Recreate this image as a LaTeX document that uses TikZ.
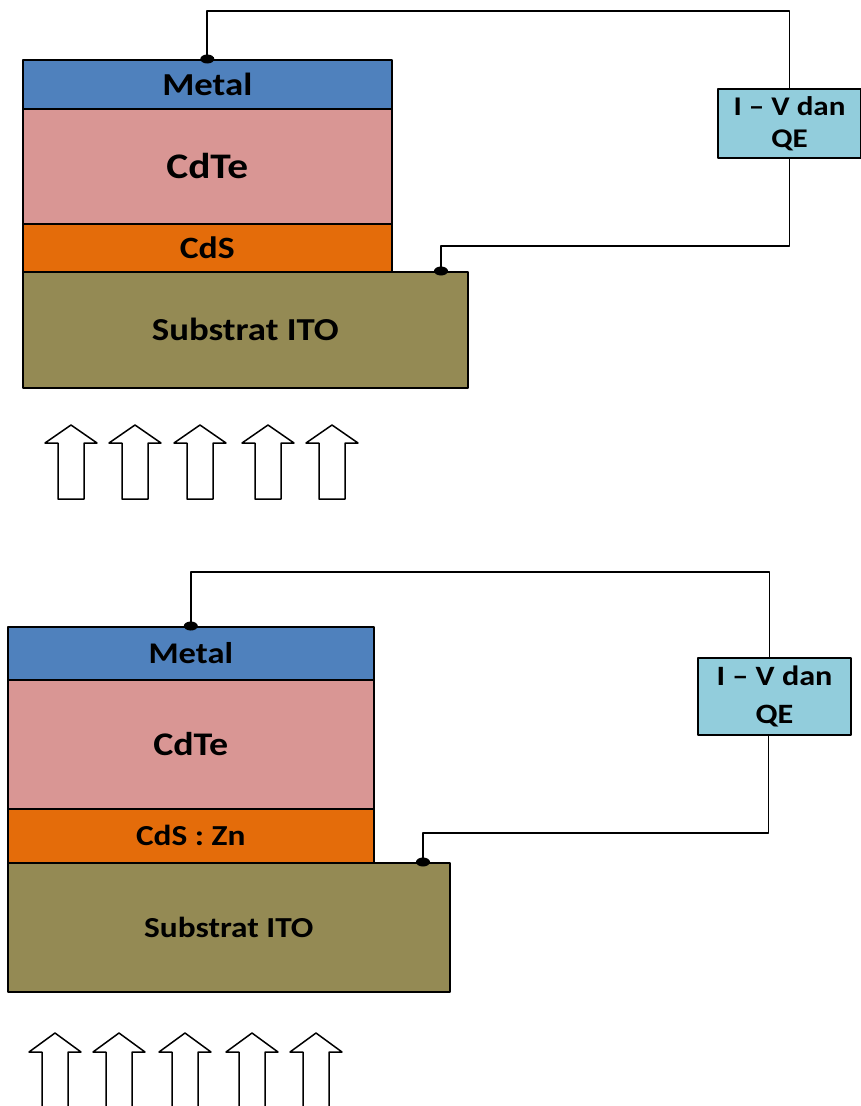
\documentclass[tikz,border=0pt]{standalone}
\usepackage{fontspec}
\setmainfont{Carlito}[FakeStretch=1.15]
\usetikzlibrary{calc}
\definecolor{metalc}{HTML}{4F81BD}
\definecolor{cdtec}{HTML}{D99694}
\definecolor{cdsc}{HTML}{E46C0A}
\definecolor{subc}{HTML}{948A54}
\definecolor{ivc}{HTML}{92CDDC}
\newcommand{\fsz}[2]{\bfseries\fontsize{#1}{#2}\selectfont}
\begin{document}
\begin{tikzpicture}[x=1pt, y=-1pt, line join=round,
	layer/.style={draw, line width=1.6pt, anchor=north west, inner sep=0pt},
	meter/.style={draw, line width=2.4pt, fill=ivc, align=center, inner sep=0pt},
	wire/.style={line width=1.7pt},
	lightarrow/.style={draw, line width=1.5pt, fill=white}]
	\useasboundingbox (0,0) rectangle (861,1106);
	\clip (0,0) rectangle (861,1106);
	% first cell : CdS
	\node[layer, fill=subc, minimum width=445, minimum height=116, font=\fsz{32}{38}] (subA) at (22,271) {Substrat ITO};
	\node[layer, fill=cdsc, minimum width=369, minimum height=48, font=\fsz{31}{36}] (cdsA) at (22,223) {CdS};
	\node[layer, fill=cdtec, minimum width=369, minimum height=115, font=\fsz{36}{42}] (cdteA) at (22,108) {CdTe};
	\node[layer, fill=metalc, minimum width=369, minimum height=49, font=\fsz{32}{38}] (metalA) at (22,59) {Metal};
	\node[meter, minimum width=143, minimum height=69, font=\fsz{27}{32}] (ivA) at (789.5,123.5) {I -- V dan\\QE};
	\coordinate (cA) at (441,271);
	\draw[wire] (metalA.north) |- ($(ivA.north)+(0,-77)$) -- (ivA.north);
	\draw[wire] (ivA.south) |- ($(cA)+(0,-25)$) -- (cA);
	\fill (metalA.north) ellipse (7 and 4.5);
	\fill (cA) ellipse (7 and 4.5);
	\foreach \x in {71,135,200,268,332}
		\draw[lightarrow] (\x-13,499) -- ++(0,-56) -- ++(-13,0) -- (\x,425) -- (\x+26,443) -- ++(-13,0) -- (\x+13,499) -- cycle;
	% second cell : CdS:Zn
	\node[layer, fill=subc, minimum width=442, minimum height=129, font=\fsz{29}{35}] (subB) at (7,862) {Substrat ITO};
	\node[layer, fill=cdsc, minimum width=366, minimum height=54, font=\fsz{29}{35}] (cdsB) at (7,808) {CdS : Zn};
	\node[layer, fill=cdtec, minimum width=366, minimum height=129, font=\fsz{33}{40}] (cdteB) at (7,679) {CdTe};
	\node[layer, fill=metalc, minimum width=366, minimum height=53, font=\fsz{30}{36}] (metalB) at (7,626) {Metal};
	\node[meter, minimum width=153, minimum height=77, font=\fsz{28}{38}] (ivB) at (774.5,696.5) {I -- V dan\\QE};
	\coordinate (cB) at (423,862);
	\draw[wire] (metalB.north) |- ($(ivB.north)+(-5,-85)$) -- ($(ivB.north)+(-5,0)$);
	\draw[wire] ($(ivB.south)+(-6,0)$) |- ($(cB)+(0,-29)$) -- (cB);
	\fill (metalB.north) ellipse (7 and 4.5);
	\fill (cB) ellipse (7 and 4.5);
	\foreach \x in {55,119,185,252,316}
		\draw[lightarrow] (\x-13,1120) -- (\x-13,1052) -- ++(-13,0) -- (\x,1033) -- (\x+26,1052) -- ++(-13,0) -- (\x+13,1120) -- cycle;
\end{tikzpicture}
\end{document}
